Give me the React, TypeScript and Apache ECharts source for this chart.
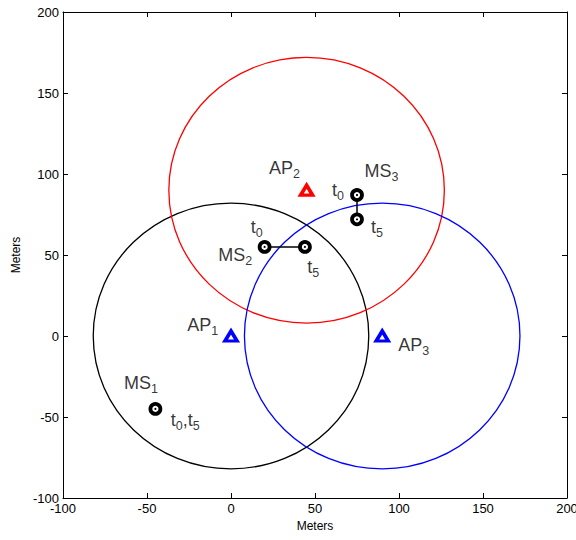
import React, { useEffect, useRef } from 'react';
import * as echarts from 'echarts';

// ---- data ----
const axisMin = -100;
const axisMax = 200;
const axisStep = 50;
const apPoints: [number, number][] = [[0, 0], [45, 90], [90, 0]];
const apColors = ['#0000ff', '#ff0000', '#0000ff'];
const circleCenters: [number, number][] = [[0, 0], [45, 90], [90, 0]];
const circleRadii = [82, 82, 82];
const circleColors = ['#000000', '#ff0000', '#0000ff'];
const ms1Track: [number, number][] = [[-45, -45]];
const ms2Track: [number, number][] = [[20, 55], [44, 55]];
const ms3Track: [number, number][] = [[75, 87], [75, 72]];

const FONT = '"Liberation Sans", Arial, Helvetica, sans-serif';

// label texts (rich) anchored to the data points, with pixel offsets
const labelDefs: { text: string; at: [number, number]; dx: number; dy: number }[] = [
  { text: '{m|AP}{s|1}', at: apPoints[0], dx: -43.7, dy: -10.9 },
  { text: '{m|AP}{s|2}', at: apPoints[1], dx: -37.6, dy: -22.2 },
  { text: '{m|AP}{s|3}', at: apPoints[2], dx: 16.1, dy: 8.8 },
  { text: '{m|MS}{s|1}', at: ms1Track[0], dx: -31.4, dy: -25.6 },
  { text: '{m|t}{s|0}{m|,t}{s|5}', at: ms1Track[0], dx: 15.3, dy: 11.1 },
  { text: '{m|t}{s|0}', at: ms2Track[0], dx: -13.9, dy: -20 },
  { text: '{m|MS}{s|2}', at: ms2Track[0], dx: -46.3, dy: 7.7 },
  { text: '{m|t}{s|5}', at: ms2Track[1], dx: 2.4, dy: 20 },
  { text: '{m|MS}{s|3}', at: ms3Track[0], dx: 7.4, dy: -23.9 },
  { text: '{m|t}{s|0}', at: ms3Track[0], dx: -24.9, dy: -5.2 },
  { text: '{m|t}{s|5}', at: ms3Track[1], dx: 14.1, dy: 7.8 },
];

const rich = {
  m: { fontSize: 18, lineHeight: 20, fontFamily: FONT, color: '#000', textBorderWidth: 0 },
  s: { fontSize: 12.5, lineHeight: 12, padding: [12, 0, 0, 0], fontFamily: FONT, color: '#000', textBorderWidth: 0 },
};

export default function App() {
  const ref = useRef<HTMLDivElement>(null);
  useEffect(() => {
    if (!ref.current) return;
    const chart = echarts.init(ref.current, undefined, { renderer: 'svg' });
    const axisCommon: any = {
      type: 'value',
      min: axisMin,
      max: axisMax,
      interval: axisStep,
      axisLine: { show: true, onZero: false, lineStyle: { color: '#000', width: 1 } },
      axisTick: { show: true, inside: true, length: 5, lineStyle: { color: '#000', width: 1 } },
      splitLine: { show: false },
    };
    const tickLabel = { color: '#000', fontSize: 13, fontFamily: FONT, margin: 4 };
    const allMs = [...ms1Track, ...ms2Track, ...ms3Track];
    chart.setOption({
      animation: false,
      backgroundColor: '#fff',
      grid: { left: 63, right: 9, top: 12, bottom: 42, containLabel: false, outerBoundsMode: 'none' },
      xAxis: [
        {
          ...axisCommon,
          position: 'bottom',
          axisLabel: tickLabel,
          name: 'Meters',
          nameLocation: 'middle',
          nameGap: 20,
          nameTextStyle: { color: '#000', fontSize: 12, fontFamily: FONT },
        },
        { ...axisCommon, position: 'top', axisLabel: { show: false } },
      ],
      yAxis: [
        {
          ...axisCommon,
          position: 'left',
          axisLabel: tickLabel,
          name: 'Meters',
          nameLocation: 'middle',
          nameGap: 33,
          nameTextStyle: { color: '#000', fontSize: 12, fontFamily: FONT },
        },
        { ...axisCommon, position: 'right', axisLabel: { show: false } },
      ],
      series: [
        {
          type: 'custom',
          coordinateSystem: 'cartesian2d',
          data: circleCenters.map((c, i) => [c[0], c[1], circleRadii[i], i]),
          renderItem: (params: any, api: any) => {
            const c = api.coord([api.value(0), api.value(1)]);
            const r = api.value(2);
            const sz = api.size([r, r]);
            return {
              type: 'ellipse',
              shape: { cx: c[0], cy: c[1], rx: sz[0], ry: sz[1] },
              style: { fill: 'none', stroke: circleColors[api.value(3)], lineWidth: 1.3 },
              silent: true,
            };
          },
          z: 1,
        },
        {
          type: 'line',
          data: ms2Track,
          symbol: 'none',
          lineStyle: { color: '#000', width: 1.5 },
          z: 2,
        },
        {
          type: 'line',
          data: ms3Track,
          symbol: 'none',
          lineStyle: { color: '#000', width: 1.5 },
          z: 2,
        },
        {
          type: 'scatter',
          data: apPoints.map((p, i) => ({ value: p, itemStyle: { borderColor: apColors[i] } })),
          symbol: 'triangle',
          symbolSize: [12, 10],
          itemStyle: { color: '#fff', borderWidth: 3.5, opacity: 1 },
          z: 3,
        },
        {
          type: 'scatter',
          data: allMs,
          symbol: 'circle',
          symbolSize: 10,
          itemStyle: { color: '#fff', borderColor: '#000', borderWidth: 3.8, opacity: 1 },
          z: 3,
        },
        {
          type: 'scatter',
          data: allMs,
          symbol: 'circle',
          symbolSize: 2.2,
          itemStyle: { color: '#000', opacity: 1 },
          z: 4,
        },
        {
          type: 'scatter',
          symbolSize: 1,
          itemStyle: { color: 'transparent' },
          z: 5,
          data: labelDefs.map((d) => ({
            value: d.at,
            label: {
              show: true,
              position: 'inside',
              align: 'left',
              verticalAlign: 'middle',
              offset: [d.dx, d.dy],
              formatter: d.text,
              color: '#000',
              textBorderWidth: 0,
              rich,
            },
          })),
        },
      ],
    });
    return () => chart.dispose();
  }, []);
  return <div ref={ref} style={{ position: 'fixed', left: 0, top: 0, width: 576, height: 540 }} />;
}
